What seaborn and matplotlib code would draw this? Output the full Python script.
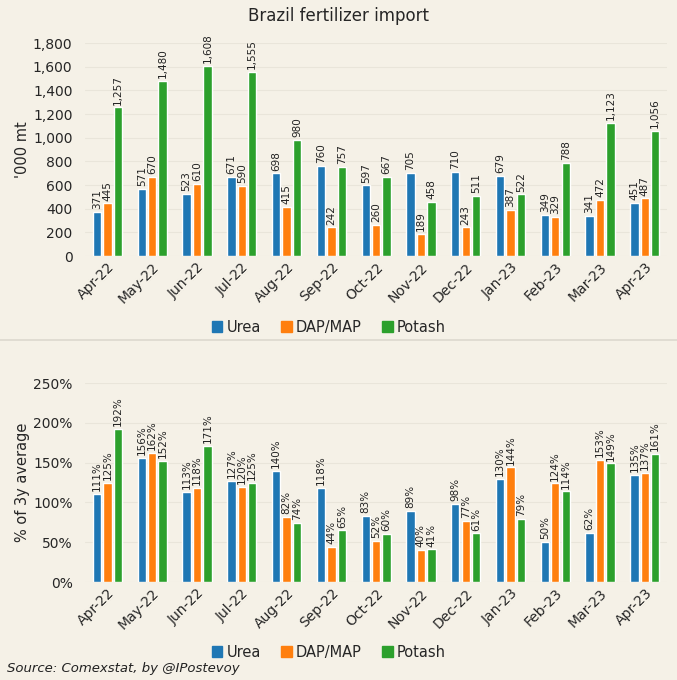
import matplotlib

matplotlib.use("Agg")
import matplotlib.pyplot as plt
import matplotlib.patches as mpatches
from matplotlib.lines import Line2D
import pandas as pd
import seaborn as sns

months = ["Apr-22", "May-22", "Jun-22", "Jul-22", "Aug-22", "Sep-22", "Oct-22",
          "Nov-22", "Dec-22", "Jan-23", "Feb-23", "Mar-23", "Apr-23"]
products = ["Urea", "DAP/MAP", "Potash"]

# '000 mt
urea_kt = [371, 571, 523, 671, 698, 760, 597, 705, 710, 679, 349, 341, 451]
dap_kt = [445, 670, 610, 590, 415, 242, 260, 189, 243, 387, 329, 472, 487]
potash_kt = [1257, 1480, 1608, 1555, 980, 757, 667, 458, 511, 522, 788, 1123, 1056]

# % of 3y average
urea_pct = [111, 156, 113, 127, 140, 118, 83, 89, 98, 130, 50, 62, 135]
dap_pct = [125, 162, 118, 120, 82, 44, 52, 40, 77, 144, 124, 153, 137]
potash_pct = [192, 152, 171, 125, 74, 65, 60, 41, 61, 79, 114, 149, 161]

colors = ["#1f77b4", "#ff7f0e", "#2ca02c"]
BG = "#f5f1e7"


def long_form(series):
    rows = []
    for prod, vals in zip(products, series):
        for m, v in zip(months, vals):
            rows.append({"month": m, "product": prod, "value": v})
    return pd.DataFrame(rows)


vol = long_form([urea_kt, dap_kt, potash_kt])
pct = long_form([urea_pct, dap_pct, potash_pct])

sns.set_theme(style="white")
plt.rcParams["font.family"] = ["DejaVu Sans"]

fig = plt.figure(figsize=(6.77, 6.80), dpi=100, facecolor=BG)
ax1 = fig.add_axes([0.1256, 0.6235, 0.86, 0.313])
ax2 = fig.add_axes([0.1256, 0.1441, 0.86, 0.2926])


def draw(ax, df, fmt, ylim, ticks, ticklabels, ylabel):
    ax.set_facecolor(BG)
    sns.barplot(data=df, x="month", y="value", hue="product", order=months,
                hue_order=products, palette=colors, width=0.7, gap=0.2,
                saturation=1, legend=False, ax=ax, zorder=3)
    for cont in ax.containers:
        ax.bar_label(cont, labels=[fmt(v) for v in cont.datavalues],
                     rotation=90, padding=2, fontsize=7.5, color="#222222")
    ax.set_ylim(*ylim)
    ax.set_xlim(-0.5, len(months) - 0.5)
    ax.set_yticks(ticks)
    ax.set_yticklabels(ticklabels, fontsize=10)
    ax.set_xticks(range(len(months)))
    ax.set_xticklabels(months, rotation=45, ha="right", rotation_mode="anchor",
                       fontsize=10)
    ax.tick_params(axis="x", length=0, pad=3)
    ax.tick_params(axis="y", length=0, pad=9)
    ax.set_xlabel("")
    ax.set_ylabel(ylabel, fontsize=10.5, labelpad=2)
    ax.grid(axis="y", color="#e9e5da", linewidth=0.8, zorder=0)
    sns.despine(ax=ax, left=True, bottom=True)


draw(ax1, vol, lambda v: f"{v:,.0f}", (0, 1800), range(0, 1801, 200),
     [f"{t:,}" for t in range(0, 1801, 200)], "'000 mt")
draw(ax2, pct, lambda v: f"{v:.0f}%", (0, 250), range(0, 251, 50),
     [f"{t}%" for t in range(0, 251, 50)], "% of 3y average")

fig.suptitle("Brazil fertilizer import", x=0.5, y=0.976, fontsize=12,
             va="center")

handles = [mpatches.Patch(color=c, label=p) for c, p in zip(colors, products)]
for y in (0.519, 0.041):
    fig.legend(handles=handles, loc="center", bbox_to_anchor=(0.486, y),
               ncol=3, frameon=False, fontsize=10.5, handlelength=0.7,
               handleheight=0.7, handletextpad=0.3, columnspacing=1.4)

fig.add_artist(Line2D([0, 1], [0.5, 0.5], color="#dcd8ce", linewidth=1.2,
                      transform=fig.transFigure))
fig.text(0.01, 0.012, "Source: Comexstat, by @IPostevoy", fontsize=9.5,
         style="italic", color="#222222")

fig.savefig("out.png", dpi=100, facecolor=BG)
